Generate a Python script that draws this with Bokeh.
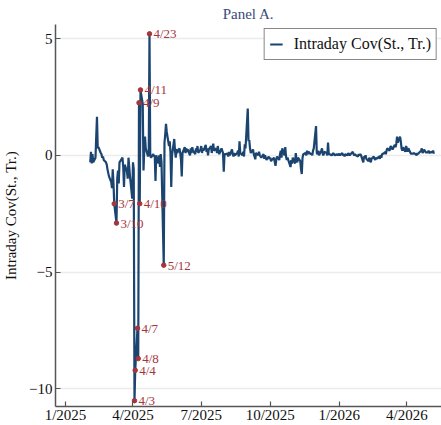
import pandas as pd
from bokeh.plotting import figure
from bokeh.models import Range1d, FixedTicker, DatetimeTickFormatter, ColumnDataSource
from bokeh.embed import file_html
from bokeh.resources import INLINE

# ---- data (business days, Feb 3 2025 .. May 8 2026) ----
feb25 = [-0.3, 0.15, -0.35, 0.05, -0.3, -0.1, 0.8, 1.65, 0.3, 0.35, 0.1, 0.05, -0.1, -0.05, -0.2, -0.3, -0.4, -0.6, -0.75, -0.9]
mar25 = [-1.15, -1.4, -0.6, -1.2, -2.07, -2.9, -1.0, -0.65, -1.2, -0.3, -0.15, -0.1, -0.5, -1.35, -0.4, -0.7, -1.0, -0.1, -0.5, -0.9, -1.85]
apr25 = [-0.3, -0.6, -10.5, -9.2, -7.4, -8.7, 2.25, -2.07, 2.8, 2.2, -0.65, 0.2, 0.8, 0.3, -0.05, 0.1, 5.2, 0.0, -0.1, 0.05, -0.05, 0.0]
may25 = [-1.1, 0.0, -0.35, 0.0, -0.5, 0.05, -0.3, -4.7, 0.55, 0.9, 1.35, 1.0, 0.4, 0.6, 0.1, -1.35, 0.0, 0.7, 0.2, -0.1, 0.27, 0.1]
jun25 = [0.3, 0.1, -0.2, -0.9, 0.1, 0.35, 0.1, 0.3, 0.15, 0.25, 0.0, 0.3, 0.1, 0.35, 0.2, 0.05, 0.3, 0.15, 0.4, 0.1, 0.25]
jul25 = [0.4, 0.1, 0.3, 0.2, 0.45, 0.15, 0.3, 0.0, 0.25, 0.4, 0.1, 0.35, 0.5, 0.2, 0.3, 0.1, 0.4, 0.2, 0.05, 0.3, 0.2, 0.1, -0.7]
aug25 = [0.05, 0.05, 0.1, -0.05, 0.15, 0.0, 0.25, 0.05, -0.05, 0.1, 0.0, 0.1, 0.2, -0.05, 0.6, 0.1, 0.0, 0.15, -0.05, 0.47, 0.3]
sep25 = [2.0, 0.6, 0.65, 0.3, 0.1, 0.25, 0.05, -0.05, -0.17, 0.1, 0.0, 0.15, 0.0, -0.05, -0.1, 0.05, -0.15, 0.0, -0.1, -0.2, -0.05, -0.15]
oct25 = [-0.1, -0.25, -0.2, -0.1, -0.3, -0.45, -0.2, -0.05, -0.2, 0.05, 0.2, -0.1, 0.3, 0.0, 0.35, -0.05, -0.2, -0.1, -0.4, -0.5, -0.2, -0.35, -0.1]
nov25 = [-0.35, 0.1, -0.2, -0.3, -0.1, -0.25, -0.6, -0.8, -0.1, 0.05, 0.1, 0.0, 0.2, 0.05, 0.15, 0.05, 0.1, 0.0, 0.2, 0.3]
dec25 = [1.25, 0.1, 0.05, 0.2, 0.0, 0.2, 0.3, 0.05, 0.0, 0.15, 0.1, 0.0, 0.55, 0.05, 0.05, 0.0, 0.05, 0.1, 0.05, 0.0, 0.05, 0.0, 0.05]
jan26 = [0.05, 0.0, 0.1, 0.0, 0.05, -0.05, 0.05, 0.0, 0.1, 0.05, 0.0, 0.05, 0.15, 0.05, 0.0, 0.05, 0.0, -0.05, 0.05, 0.0, 0.05, 0.0]
feb26 = [-0.3, -0.05, -0.1, 0.0, -0.15, -0.25, -0.1, -0.2, -0.3, -0.15, -0.05, -0.15, -0.2, -0.1, -0.15, -0.05, -0.15, 0.0, -0.1, 0.05]
mar26 = [0.1, 0.15, 0.05, 0.2, 0.3, 0.2, 0.35, 0.4, 0.3, 0.25, 0.45, 0.35, 0.5, 0.8, 0.55, 0.8, 0.6, 0.3, 0.2, 0.35, 0.15, 0.4]
apr26 = [0.3, 0.15, 0.3, 0.1, 0.05, 0.1, 0.05, 0.1, 0.05, 0.0, 0.1, 0.05, 0.1, 0.2, 0.3, 0.1, 0.15, 0.25, 0.1, 0.15, 0.1, 0.2]
may26 = [0.1, 0.15, 0.1, 0.2, 0.1, 0.1]

series_start = "2025-02-03"
series_end = "2026-05-08"

ann_labels = ["3/7", "3/10", "4/3", "4/4", "4/7", "4/8", "4/9", "4/10", "4/11", "4/23", "5/12"]
ann_dates = ["2025-03-07", "2025-03-10", "2025-04-03", "2025-04-04", "2025-04-07", "2025-04-08",
             "2025-04-09", "2025-04-10", "2025-04-11", "2025-04-23", "2025-05-12"]

x_ticks = ["2025-01-01", "2025-04-01", "2025-07-01", "2025-10-01", "2026-01-01", "2026-04-01"]
y_ticks = [-10, -5, 0, 5]

# ---- build ----
values = (feb25 + mar25 + apr25 + may25 + jun25 + jul25 + aug25 + sep25 + oct25 + nov25
          + dec25 + jan26 + feb26 + mar26 + apr26 + may26)
dates = pd.bdate_range(series_start, series_end)
n = min(len(dates), len(values))
s = pd.Series(values[:n], index=dates[:n])

src = ColumnDataSource(dict(x=s.index, y=s.values))
ad = pd.to_datetime(ann_dates)
ann_src = ColumnDataSource(dict(x=ad, y=[float(s.loc[d]) for d in ad], t=ann_labels))

SERIF = "Liberation Serif"
NAVY = "#1b4470"
RED = "#a3353d"

p = figure(width=441, height=425, x_axis_type="datetime", output_backend="svg",
           toolbar_location=None, title="Panel A.",
           x_range=Range1d(pd.Timestamp("2024-12-18 17:00"), pd.Timestamp("2026-05-17 06:00")),
           y_range=Range1d(-10.75, 5.6),
           min_border_left=0, min_border_right=0, min_border_top=0, min_border_bottom=0)

p.title.align = "center"
p.title.text_font = SERIF
p.title.text_font_size = "15px"
p.title.text_font_style = "normal"
p.title.text_color = "#3b4a7a"
p.title.standoff = 6

p.outline_line_color = None
p.xgrid.visible = False
p.ygrid.grid_line_color = "#ececec"
p.ygrid.grid_line_width = 1.5

p.xaxis.ticker = FixedTicker(ticks=[pd.Timestamp(t).value / 1e6 for t in x_ticks])
fmt = "%-m/%Y"
p.xaxis.formatter = DatetimeTickFormatter(years=fmt, months=fmt, days=fmt, hours=fmt,
                                          minutes=fmt, seconds=fmt, milliseconds=fmt,
                                          microseconds=fmt, hourmin=fmt, minsec=fmt)
p.yaxis.ticker = FixedTicker(ticks=y_ticks)

for ax in (p.xaxis[0], p.yaxis[0]):
    ax.axis_line_color = "#555555"
    ax.axis_line_width = 1.5
    ax.major_tick_line_color = "#555555"
    ax.major_tick_line_width = 1.2
    ax.major_tick_in = 5
    ax.major_tick_out = 0
    ax.minor_tick_line_color = None
    ax.major_label_text_font = SERIF
    ax.major_label_text_font_size = "15px"
    ax.major_label_text_color = "#111111"
    ax.major_label_standoff = 3

p.xaxis.major_label_standoff = 0
p.xaxis.axis_label_standoff = 0

p.yaxis.axis_label = "Intraday Cov(St., Tr.)"
p.yaxis.axis_label_text_font = SERIF
p.yaxis.axis_label_text_font_size = "15px"
p.yaxis.axis_label_text_font_style = "normal"
p.yaxis.axis_label_text_color = "#111111"
p.yaxis.axis_label_standoff = 7

p.line("x", "y", source=src, line_color=NAVY, line_width=2.2, legend_label="Intraday Cov(St., Tr.)")

p.scatter("x", "y", source=ann_src, size=4.5, color=RED)
p.text("x", "y", text="t", source=ann_src, x_offset=4, text_baseline="middle",
       text_align="left", text_font_size="13px", text_color=RED, text_font=SERIF)

p.legend.location = "top_right"
p.legend.border_line_color = "#111111"
p.legend.border_line_width = 1.2
p.legend.background_fill_alpha = 1
p.legend.label_text_font = SERIF
p.legend.label_text_font_size = "16px"
p.legend.label_text_color = "#111111"
p.legend.glyph_width = 13
p.legend.padding = 5
p.legend.margin = 4
p.legend.label_standoff = 11

open("out.html", "w").write(file_html(p, INLINE))
